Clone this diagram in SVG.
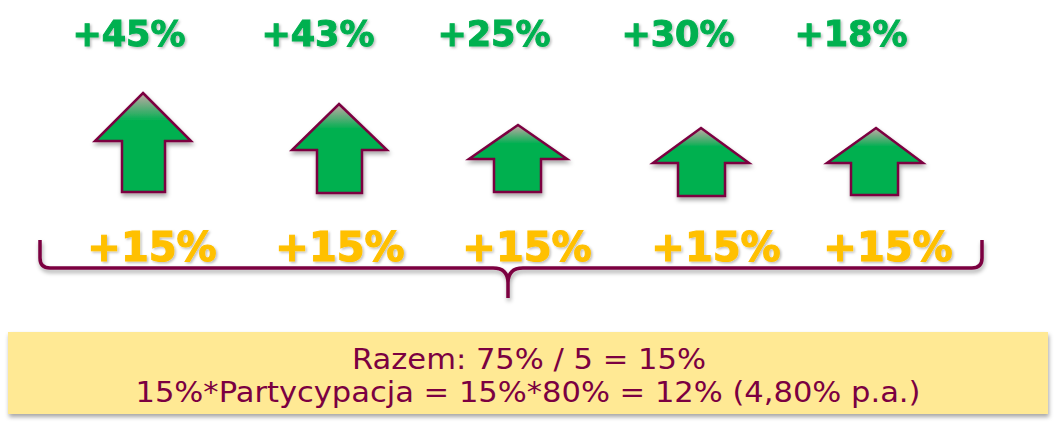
<svg xmlns="http://www.w3.org/2000/svg" width="1057" height="437" viewBox="0 0 1057 437">
<style>
.g{font-family:"DejaVu Sans",Verdana,sans-serif;font-weight:bold;font-size:35px;fill:#00B050;stroke:#00B050;stroke-width:1;text-anchor:middle}
.y{font-family:"DejaVu Sans",Verdana,sans-serif;font-weight:bold;font-size:40px;fill:#FFC000;stroke:#FFC000;stroke-width:1.2;text-anchor:middle}
.b{font-family:"DejaVu Sans",sans-serif;font-size:28px;fill:#7B0041;text-anchor:middle}
.arr{fill:url(#ag);stroke:#7B0041;stroke-width:2.5;filter:url(#sh)}
</style>
<defs>
<linearGradient id="ag" x1="0" y1="0" x2="0" y2="1">
<stop offset="0" stop-color="#C8A8A8"/>
<stop offset="0.28" stop-color="#00B050"/>
<stop offset="1" stop-color="#00B050"/>
</linearGradient>
<filter id="sh" x="-20%" y="-20%" width="140%" height="140%">
<feDropShadow dx="1" dy="3" stdDeviation="2" flood-color="#000" flood-opacity="0.35"/>
</filter>
<filter id="ts" x="-10%" y="-20%" width="120%" height="140%">
<feDropShadow dx="1.5" dy="1.5" stdDeviation="1" flood-color="#000" flood-opacity="0.25"/>
</filter>
</defs>
<g id="top-labels" filter="url(#ts)">
<text class="g" x="129" y="46">+45%</text>
<text class="g" x="318" y="46">+43%</text>
<text class="g" x="494" y="46">+25%</text>
<text class="g" x="678" y="46">+30%</text>
<text class="g" x="851" y="46">+18%</text>
</g>
<g id="arrow1"><path class="arr" d="M143,93 L191,141 L165,141 L165,192 L122,192 L122,141 L95,141 Z"/></g>
<g id="arrow2"><path class="arr" d="M339,104 L387,150 L362,150 L362,193 L317,193 L317,150 L292,150 Z"/></g>
<g id="arrow3"><path class="arr" d="M518,125 L567,159 L541,159 L541,192 L494,192 L494,159 L469,159 Z"/></g>
<g id="arrow4"><path class="arr" d="M701,128 L749,163 L725,163 L725,196 L678,196 L678,163 L653,163 Z"/></g>
<g id="arrow5"><path class="arr" d="M876,128 L923,163 L898,163 L898,195 L851,195 L851,163 L827,163 Z"/></g>
<g id="bottom-labels" filter="url(#ts)">
<text class="y" x="152" y="261">+15%</text>
<text class="y" x="340" y="261">+15%</text>
<text class="y" x="527" y="261">+15%</text>
<text class="y" x="716" y="261">+15%</text>
<text class="y" x="888" y="261">+15%</text>
</g>
<g id="connectors">
<path d="M40,240 L40,258 Q40,268 50,268 L493,268 Q508,268 508,283 L508,298 M508,283 Q508,268 523,268 L972,268 Q982,268 982,258 L982,240" fill="none" stroke="#7B0041" stroke-width="3.5" filter="url(#sh)"/>
</g>
<g id="summary">
<rect x="8" y="332" width="1040" height="82" fill="#FFE994" filter="url(#sh)"/>
<text class="b" x="529" y="369" textLength="354" lengthAdjust="spacingAndGlyphs">Razem: 75% / 5 = 15%</text>
<text class="b" x="528" y="402" textLength="785" lengthAdjust="spacingAndGlyphs">15%*Partycypacja  = 15%*80%  = 12% (4,80% p.a.)</text>
</g>
</svg>
